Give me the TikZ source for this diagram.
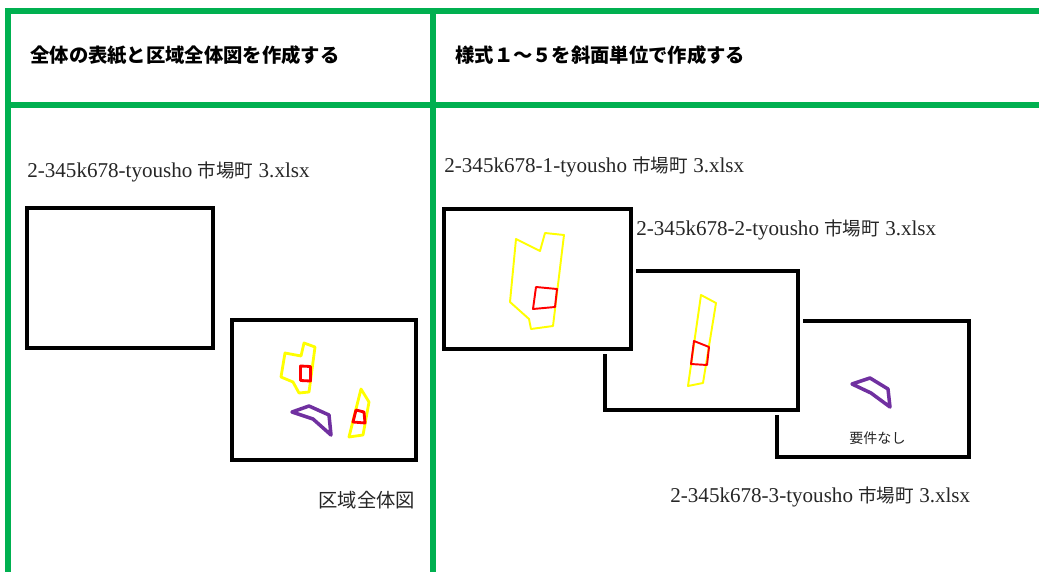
\documentclass[tikz,border=0pt]{standalone}
\usepackage{fontspec}
\usepackage{tikz}
\usepackage{xcolor}
\setmainfont{Liberation Serif}
\newfontfamily\jp{Noto Sans CJK JP}
\newfontfamily\jpsmall[Scale=0.88]{Noto Sans CJK JP}
\definecolor{xlgreen}{HTML}{00B050}
\definecolor{zoneyellow}{HTML}{FFFF00}
\definecolor{sitered}{HTML}{FF0000}
\definecolor{slopepurple}{HTML}{7030A0}
\newcommand{\fname}[1]{2-345k678-#1tyousho {\jpsmall 市場町} 3.xlsx}

\begin{document}
\begin{tikzpicture}[x=0.02cm, y=-0.02cm,
  every node/.style={inner sep=0pt, anchor=west},
  frameline/.style={xlgreen, line width=2.9pt},
  title/.style={font=\jp\bfseries\fontsize{11}{13}\selectfont},
  filelabel/.style={text=black!85, font=\fontsize{12}{14}\selectfont},
  sheet/.style={draw, line width=2pt, fill=white, preaction={draw=white, line width=5.5pt}},
  zone/.style={zoneyellow, line width=#1, line join=round},
  zone/.default=1.6pt,
  site/.style={sitered, line width=#1, line join=round},
  site/.default=1.6pt,
  exempt/.style={slopepurple, line width=2pt, line join=round}]
  \useasboundingbox (0,0) rectangle (1039,572);

  % Green frame
  \draw[frameline] (5,11) -- (1039,11);
  \draw[frameline] (5,105) -- (1039,105);
  \draw[frameline] (8,8.5) -- (8,572);
  \draw[frameline] (433,8.5) -- (433,572);

  % Headers
  \node[title] (hdrleft) at (30,55) {全体の表紙と区域全体図を作成する};
  \node[title] (hdrright) at (455,55) {様式１～５を斜面単位で作成する};

  % Left panel: cover sheet and area map
  \node[filelabel] (fileall) at (27,172) {\fname{}};
  \draw[sheet] (27,208) rectangle (213,348);
  \draw[sheet] (232,320) rectangle (416,460);
  \draw[zone] (285,353) -- (301,356) -- (304,343) -- (315,347) -- (309,392)
    -- (299,393) -- (293,382) -- (281,377) -- cycle;
  \draw[site] (300.5,366) -- (310.5,366.5) -- (310.5,381) -- (300.5,380.5) -- cycle;
  \draw[exempt] (292,412) -- (309,406) -- (329,415) -- (331,435) -- (313,419) -- cycle;
  \draw[zone] (361,389) -- (369,402) -- (363,435) -- (349,437) -- cycle;
  \draw[site] (356,410) -- (364,412) -- (365,423) -- (353,422) -- cycle;
  \node[font=\jp\fontsize{11}{13}\selectfont, text=black!85] (areamap) at (318,500) {区域全体図};

  % Right panel: one workbook per slope
  \node[filelabel] (file1) at (444,167) {\fname{1-}};
  \node[filelabel] (file2) at (636,230) {\fname{2-}};
  \node[filelabel] (file3) at (670,497) {\fname{3-}};

  % sheet 3 (no target)
  \draw[sheet] (777,321) rectangle (969,457);
  \draw[exempt] (852,384) -- (870,378) -- (888,389) -- (890,407) -- (871,393) -- cycle;
  \node[font=\jp\fontsize{8}{10}\selectfont, text=black!85] (nodata) at (849,438) {要件なし};

  % sheet 2
  \draw[sheet] (605,271) rectangle (798,410);
  \draw[zone=1.1pt] (701,295) -- (716,303) -- (703,383) -- (688,386) -- cycle;
  \draw[site=1.1pt] (694,341) -- (709,347) -- (707,365) -- (691,364) -- cycle;

  % sheet 1
  \draw[sheet] (444,209) rectangle (631,349);
  \draw[zone=1.1pt] (516,239) -- (540,251) -- (545,233) -- (564,235) -- (553,326)
    -- (531,329) -- (529,319) -- (510,302) -- cycle;
  \draw[site=1.1pt] (536,287) -- (557,289) -- (555,307) -- (533,309) -- cycle;
\end{tikzpicture}
\end{document}
